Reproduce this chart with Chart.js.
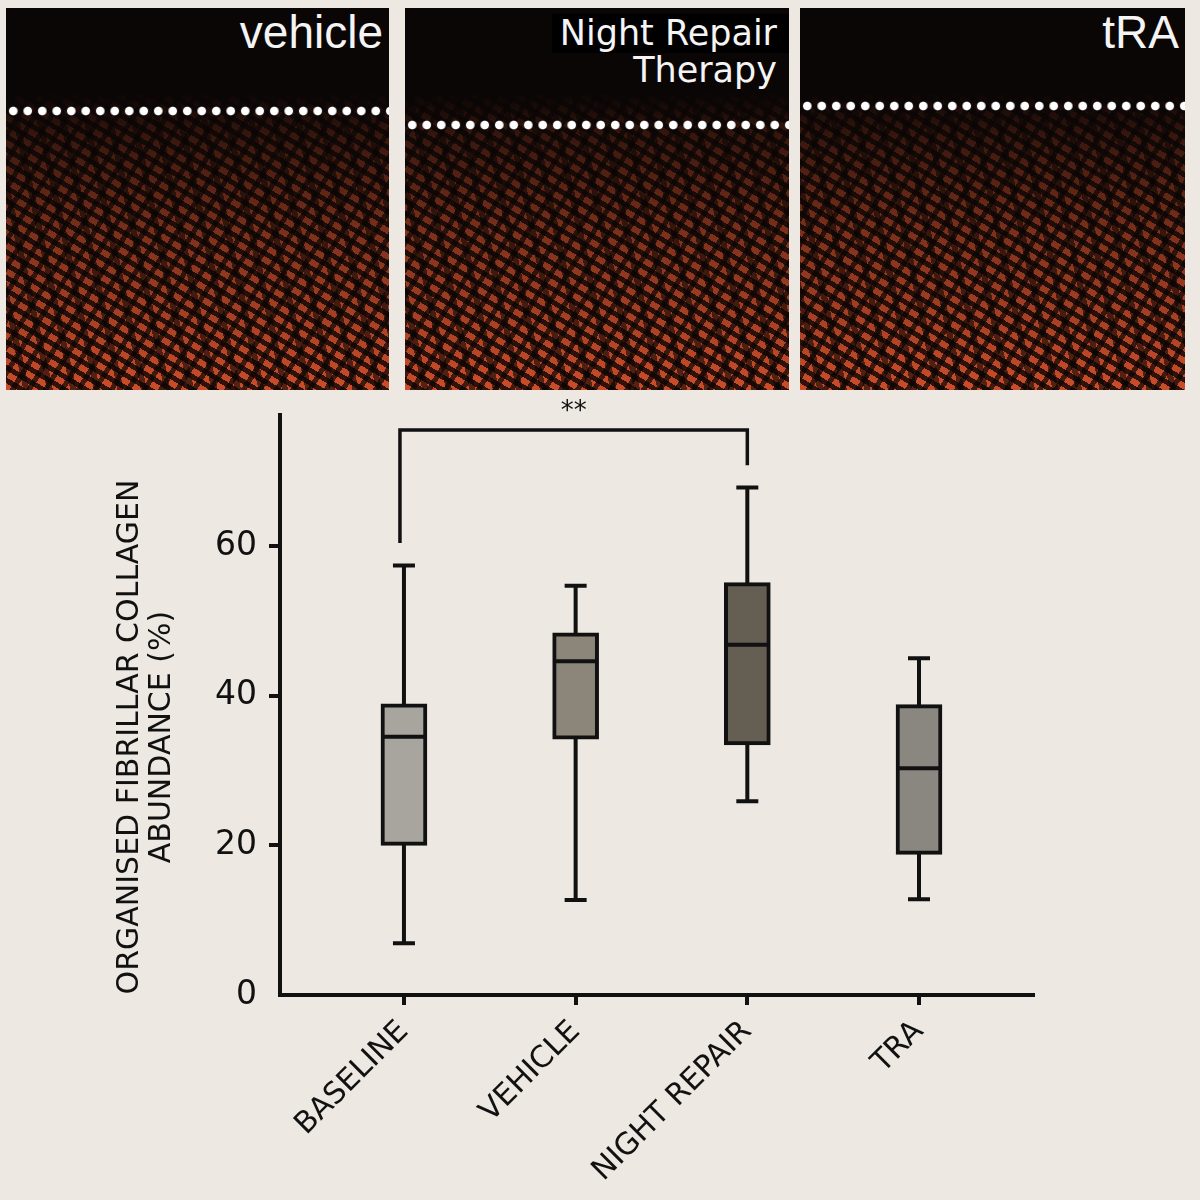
<!DOCTYPE html>
<html>
<head>
<meta charset="utf-8">
<script src="https://cdn.jsdelivr.net/npm/chart.js@4.4.1/dist/chart.umd.min.js"></script>
<style>
    html, body { margin: 0; padding: 0; background: #ede8e2; }
    body { width: 1200px; height: 1200px; position: relative; overflow: hidden; }
    .panel {
        position: absolute; top: 8px; height: 382px; overflow: hidden;
        background-color: #0b0706;
        background-image:
            linear-gradient(to bottom, #0a0605 0px, #0a0605 85px, rgba(10,6,5,0.8) 125px, rgba(10,6,5,0.45) 230px, rgba(10,6,5,0.1) 382px),
            repeating-linear-gradient(31deg, rgba(0,0,0,0) 0 6px, rgba(8,4,3,0.8) 6px 11px),
            repeating-linear-gradient(-58deg, rgba(0,0,0,0) 0 9px, rgba(8,4,3,0.7) 9px 14px),
            repeating-linear-gradient(78deg, rgba(0,0,0,0) 0 17px, rgba(8,4,3,0.6) 17px 23px),
            linear-gradient(#e0552f, #e0552f);
    }
    #p1 { left: 6px; width: 383px; }
    #p2 { left: 405px; width: 384px; }
    #p3 { left: 800px; width: 385px; }
    .dots {
        position: absolute; left: 0; right: 0; height: 10px;
        background: radial-gradient(circle at 50% 50%, #fff 0 3.8px, rgba(255,255,255,0) 4.8px) repeat-x;
        background-size: 14.5px 10px;
    }
    .tag { position: absolute; color: #f4f4f4; white-space: nowrap; }
    .sans { font-family: "Liberation Sans", Arial, sans-serif; font-size: 46px; line-height: 46px; top: 1px; right: 6px; }
    .nrt { font-family: "DejaVu Sans", sans-serif; font-size: 35px; line-height: 34px; top: 6px; right: 0; text-align: right; }
    .nrt span { background: #000; display: inline-block; padding: 2px 12px 3px 8px; }
    .nrt .l2 { padding-right: 12px; }
    #chartWrap { position: absolute; left: 0; top: 395px; width: 1200px; height: 805px; }
</style>
</head>
<body>
<div class="panel" id="p1">
    <div class="dots" style="top:98px"></div>
    <div class="tag sans">vehicle</div>
</div>
<div class="panel" id="p2">
    <div class="dots" style="top:112px"></div>
    <div class="tag nrt"><span>Night Repair</span><br><div class="l2">Therapy</div></div>
</div>
<div class="panel" id="p3">
    <div class="dots" style="top:93px"></div>
    <div class="tag sans">tRA</div>
</div>
<div id="chartWrap"><canvas id="boxChart" width="1200" height="805"></canvas></div>

<script>
const categories = ['BASELINE', 'VEHICLE', 'NIGHT REPAIR', 'TRA'];
const xPositions = [1, 2, 3, 4];
const whiskerLow = [6.9, 12.7, 25.9, 12.8];
const quartile1 = [20.0, 34.2, 33.4, 18.8];
const medians = [34.5, 44.6, 46.8, 30.3];
const quartile3 = [38.9, 48.4, 55.1, 38.8];
const whiskerHigh = [57.4, 54.7, 67.8, 45.0];
const boxColors = ['#a8a59f', '#8b857a', '#655e52', '#8a8680'];
const yTicks = [0, 20, 40, 60];
const yTitle = ['ORGANISED FIBRILLAR COLLAGEN', 'ABUNDANCE (%)'];

// significance bracket: BASELINE vs NIGHT REPAIR
const sigPair = [1, 3];
const sigLegEnds = [60.4, 70.8];
const sigTop = 75.5;
const sigLabel = '**';

const ink = '#111';
const font = '"DejaVu Sans", sans-serif';

const boxPlotPlugin = {
    id: 'boxPlot',
    beforeDatasetsDraw(chart) {
        // whiskers go under the boxes
        const { ctx, scales: { x, y } } = chart;
        ctx.save();
        ctx.strokeStyle = ink;
        ctx.lineWidth = 4;
        xPositions.forEach((xv, i) => {
            const px = x.getPixelForValue(xv);
            const lo = y.getPixelForValue(whiskerLow[i]);
            const hi = y.getPixelForValue(whiskerHigh[i]);
            ctx.beginPath();
            ctx.moveTo(px, lo); ctx.lineTo(px, hi);
            ctx.moveTo(px - 11, lo); ctx.lineTo(px + 11, lo);
            ctx.moveTo(px - 11, hi); ctx.lineTo(px + 11, hi);
            ctx.stroke();
        });
        ctx.restore();
    },
    afterDatasetsDraw(chart) {
        const { ctx, chartArea, scales: { x, y } } = chart;
        ctx.save();
        ctx.strokeStyle = ink;
        ctx.lineWidth = 4;
        // medians
        xPositions.forEach((xv, i) => {
            const px = x.getPixelForValue(xv);
            const py = y.getPixelForValue(medians[i]);
            ctx.beginPath();
            ctx.moveTo(px - 22, py); ctx.lineTo(px + 22, py);
            ctx.stroke();
        });
        // bracket
        const x1 = x.getPixelForValue(sigPair[0]) - 4;
        const x2 = x.getPixelForValue(sigPair[1]);
        const yt = y.getPixelForValue(sigTop);
        ctx.lineWidth = 3.5;
        ctx.beginPath();
        ctx.moveTo(x1, y.getPixelForValue(sigLegEnds[0]));
        ctx.lineTo(x1, yt);
        ctx.lineTo(x2, yt);
        ctx.lineTo(x2, y.getPixelForValue(sigLegEnds[1]));
        ctx.stroke();
        ctx.fillStyle = ink;
        ctx.font = '26px ' + font;
        ctx.textAlign = 'center';
        ctx.textBaseline = 'middle';
        ctx.fillText(sigLabel, (x1 + x2) / 2, yt - 18);
        // y axis title, two lines
        ctx.font = '30px ' + font;
        const cy = (chartArea.top + chartArea.bottom) / 2 + 32;
        yTitle.forEach((line, k) => {
            ctx.save();
            ctx.translate(chartArea.left - 150 + k * 32, cy);
            ctx.rotate(-Math.PI / 2);
            ctx.fillText(line, 0, 0);
            ctx.restore();
        });
        ctx.restore();
    }
};

new Chart(document.getElementById('boxChart'), {
    type: 'bar',
    data: {
        datasets: [{
            data: xPositions.map((xv, i) => ({ x: xv, y: [quartile1[i], quartile3[i]] })),
            backgroundColor: boxColors,
            borderColor: ink,
            borderWidth: 4,
            borderSkipped: false,
            barThickness: 46
        }]
    },
    options: {
        responsive: false,
        animation: false,
        layout: { padding: { left: 0, right: 167, top: 20, bottom: 0 } },
        plugins: { legend: { display: false }, tooltip: { enabled: false } },
        scales: {
            x: {
                type: 'linear',
                offset: false,
                min: 0.278,
                max: 4.664,
                afterBuildTicks: s => { s.ticks = xPositions.map(v => ({ value: v })); },
                afterFit: s => { s.height = 205; s.paddingLeft = 0; s.paddingRight = 0; },
                grid: { offset: false, drawOnChartArea: false, drawTicks: true, tickLength: 10, lineWidth: 4, color: ink },
                border: { display: true, width: 4, color: ink },
                ticks: {
                    color: ink,
                    font: { family: font, size: 30 },
                    maxRotation: 45,
                    minRotation: 45,
                    padding: 9,
                    callback: (v) => categories[xPositions.indexOf(v)]
                }
            },
            y: {
                min: 0,
                max: 77.5,
                afterBuildTicks: s => { s.ticks = yTicks.map(v => ({ value: v })); },
                afterFit: s => { s.width = 280; s.paddingTop = 0; s.paddingBottom = 0; },
                grid: {
                    drawOnChartArea: false, drawTicks: true, tickLength: 11, lineWidth: 4,
                    color: c => (c.tick && c.tick.value === 0 ? 'rgba(0,0,0,0)' : ink)
                },
                border: { display: true, width: 4, color: ink },
                ticks: { color: ink, font: { family: font, size: 33 }, padding: 12 }
            }
        }
    },
    plugins: [boxPlotPlugin]
});
</script>
</body>
</html>
